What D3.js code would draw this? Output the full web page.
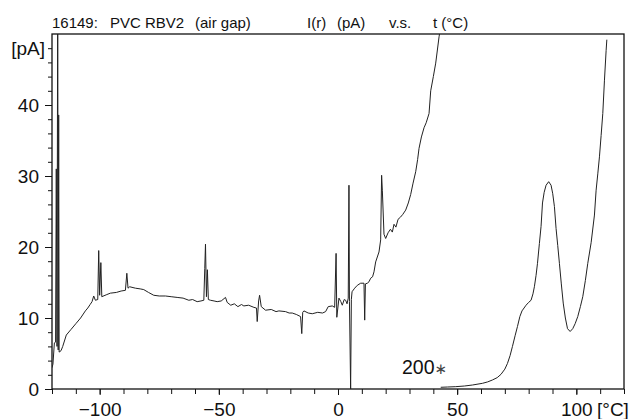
<!DOCTYPE html>
<html>
<head>
<meta charset="utf-8">
<script src="https://cdn.jsdelivr.net/npm/d3@7"></script>
<style>
  body { margin: 0; background: #fff; }
  svg { display: block; font-family: "Liberation Sans", Arial, sans-serif; }
  .axis path, .axis line { stroke: #111; }
  .axis text { font-size: 19px; fill: #111; }
</style>
</head>
<body>
<script>
// I(r) in pA versus temperature
const mainT = [-120, -119.6, -119, -118.5, -118.2, -117.9, -117.6, -117.4, -117.2, -117.0,
  -116.2, -115.5, -114, -112, -110, -108, -106, -105, -104, -103.2, -102.5, -101.8, -100.8, -100.4,
  -100, -99.5, -99.1, -97, -95.5, -93, -91, -89.2, -88.6, -88.1, -87.4, -85, -83, -81.5, -79.5,
  -77.3, -75, -72.4, -70, -67.5, -65, -62.6, -61, -59.1, -57.5, -56.3, -55.9, -55.6, -55.2, -54.8,
  -54.4, -53.5, -52, -50.7, -49, -47.2, -46.5, -45, -43.5, -42, -40.5, -39.5, -37.5, -35.3, -34.2,
  -33.9, -33.3, -32.9, -32.2, -30.4, -28, -26, -24.8, -22, -20.5, -19.2, -17.5, -15.7, -15.2, -14.8,
  -14.3, -12.5, -10.8, -8.5, -6.5, -5.2, -4.1, -2.4, -1.4, -0.8, -0.5, 0.4, 1.2, 1.8, 2.6, 3.2, 3.8,
  4.3, 4.6, 4.8, 5.3, 5.6, 5.9, 7, 8.1, 9.5, 10.9, 11.2, 11.5, 12.3, 13.0, 13.7, 14.5, 15.1, 15.8,
  17.2, 17.9, 18.3, 18.6, 19.3, 20.0, 21.0, 22.0, 22.8, 23.5, 24.3, 25.2, 26.2, 27.2, 28.4, 29.5,
  30.5, 31.5, 32.6, 33.4, 34.0, 35.0, 36.1, 37.0, 38.2, 38.9, 40.0, 41.0, 42.4, 43.1];
const mainI = [3.0, 3.5, 6.5, 6.6, 31, 6.0, 58, 5.5, 38.6, 5.2,
  5.4, 6.0, 7.6, 8.4, 9.2, 10.0, 11.0, 11.4, 11.9, 12.3, 13.1, 12.5, 12.6, 19.5,
  13.2, 17.8, 13.0, 13.3, 13.5, 13.6, 13.8, 13.9, 16.3, 14.2, 14.4, 14.2, 14.1, 14.0, 13.6,
  13.2, 13.1, 13.1, 13.0, 12.9, 12.8, 12.5, 12.6, 12.3, 12.4, 12.5, 17.0, 20.4, 13.0, 16.8,
  12.6, 12.5, 12.4, 12.3, 12.4, 12.9, 12.2, 11.8, 12.0, 11.6, 11.9, 11.7, 11.8, 11.5, 11.4,
  9.5, 12.4, 13.2, 11.6, 11.1, 11.2, 10.9, 11.0, 10.9, 10.7, 10.7, 10.5, 10.2, 7.8, 10.8,
  11.0, 10.7, 10.6, 10.8, 10.7, 10.9, 11.6, 11.7, 11.5, 19.1, 10.1, 12.8, 12.3, 11.8, 12.6, 12.5, 12.0,
  12.8, 28.7, 12.3, 0, 12.6, 13.7, 14.2, 14.6, 14.9, 14.9, 9.7, 14.8, 14.9, 15.1, 15.6, 15.8, 16.5, 17.9,
  19.3, 21.0, 30.1, 28.0, 21.8, 21.2, 22.0, 22.5, 22.1, 23.2, 22.8, 23.9, 24.2, 24.6, 25.2, 26.2,
  27.4, 29.0, 30.6, 32.3, 33.9, 35.5, 36.8, 37.5, 38.8, 42.0, 44.0, 45.9, 49.6, 51.0];

// second trace, plotted at x200 gain
const gainT = [43.1, 46, 49.4, 53, 56.4, 60.6, 62.8, 64.8, 66.8, 68.4, 70, 71.1, 72.2, 73.2, 74.3,
  75.3, 76.3, 77.2, 78.9, 80, 81, 81.8, 82.4, 83.1, 83.7, 84.5, 85.2, 85.8, 86.5, 87.3, 88.4, 89.4,
  90.1, 90.8, 91.5, 92.2, 92.9, 93.7, 94.5, 95.4, 96.3, 97.4, 98.5, 99.5, 100.6, 101.7, 102.7, 103.8,
  104.8, 106.2, 107.6, 108.3, 109.0, 109.7, 110.4, 111.1, 111.8, 112.5, 112.8];
const gainI = [0.24, 0.28, 0.33, 0.42, 0.56, 0.8, 1.0, 1.27, 1.6, 2.07, 2.8, 3.6, 4.7, 6.0, 7.5,
  8.8, 10.2, 11.0, 11.8, 12.2, 12.5, 13.4, 14.4, 16.0, 17.7, 20.5, 22.9, 26.2, 27.7, 28.7, 29.2, 28.7,
  27.5, 25.7, 22.6, 20.2, 17.7, 14.8, 12.1, 10.0, 8.5, 8.1, 8.5, 9.2, 10.2, 11.6, 13.0, 15.3,
  17.7, 20.6, 24.5, 28.0, 30.3, 32.7, 35.7, 38.8, 43.5, 47.7, 49.2];

const xTicks = [-100, -50, 0, 50, 100];
const yTicks = [0, 10, 20, 30, 40];

const W = 631, H = 419;
const margin = { left: 52, right: 7, top: 34, bottom: 30 };
const innerW = W - margin.left - margin.right;
const innerH = H - margin.top - margin.bottom;

const svg = d3.select('body').append('svg')
    .attr('width', W)
    .attr('height', H);

const g = svg.append('g')
    .attr('transform', `translate(${margin.left},${margin.top})`);

const x = d3.scaleLinear().domain([-120, 120]).range([0, innerW]);
const y = d3.scaleLinear().domain([0, 50]).range([innerH, 0]);

// minor ticks
g.append('g').attr('class', 'axis')
    .attr('transform', `translate(0,${innerH})`)
    .call(d3.axisBottom(x).tickValues(d3.range(-120, 121, 10)).tickSize(5).tickFormat(''))
    .call(a => a.select('.domain').remove());
g.append('g').attr('class', 'axis')
    .call(d3.axisLeft(y).tickValues(d3.range(2, 50, 2)).tickSize(4).tickFormat(''))
    .call(a => a.select('.domain').remove());

// major ticks with labels
g.append('g').attr('class', 'axis')
    .attr('transform', `translate(0,${innerH})`)
    .call(d3.axisBottom(x).tickValues(xTicks).tickSize(6).tickPadding(8))
    .call(a => a.select('.domain').remove());
g.append('g').attr('class', 'axis')
    .call(d3.axisLeft(y).tickValues(yTicks).tickSize(7).tickPadding(6))
    .call(a => a.select('.domain').remove());

g.append('text')
    .attr('x', -7).attr('y', y(48)).attr('dy', '0.35em')
    .attr('text-anchor', 'end')
    .style('font-size', '19px').attr('fill', '#111')
    .text('[pA]');

svg.append('text')
    .attr('x', 597).attr('y', 416)
    .style('font-size', '19px').attr('fill', '#111')
    .text('[°C]');

// frame
g.append('rect')
    .attr('width', innerW).attr('height', innerH)
    .attr('fill', 'none').attr('stroke', '#111').attr('stroke-width', 1.3);

g.append('clipPath').attr('id', 'clip')
  .append('rect').attr('width', innerW).attr('height', innerH);

const line = d3.line().x(d => x(d[0])).y(d => y(d[1]));

const plot = g.append('g').attr('clip-path', 'url(#clip)');

plot.append('path')
    .datum(d3.zip(mainT, mainI))
    .attr('fill', 'none').attr('stroke', '#222').attr('stroke-width', 1)
    .attr('d', line);

plot.append('path')
    .datum(d3.zip(gainT, gainI))
    .attr('fill', 'none').attr('stroke', '#222').attr('stroke-width', 1)
    .attr('d', line);

const lab = svg.append('text')
    .attr('x', 402).attr('y', 374)
    .style('font-size', '19.5px').attr('fill', '#111');
lab.append('tspan').text('200');
lab.append('tspan').style('font-family', '"DejaVu Sans"').style('font-size', '15px')
    .attr('fill', '#444').text('∗');

// header line
const title = [
  { x: 52, t: '16149:' },
  { x: 110, t: 'PVC RBV2' },
  { x: 195, t: '(air gap)' },
  { x: 307, t: 'I(r)' },
  { x: 337, t: '(pA)' },
  { x: 389, t: 'v.s.' },
  { x: 433, t: 't (°C)' }
];
svg.append('g').selectAll('text')
  .data(title)
  .join('text')
    .attr('x', d => d.x).attr('y', 27.5)
    .style('font-size', '15px').attr('fill', '#111')
    .text(d => d.t);
</script>
</body>
</html>
